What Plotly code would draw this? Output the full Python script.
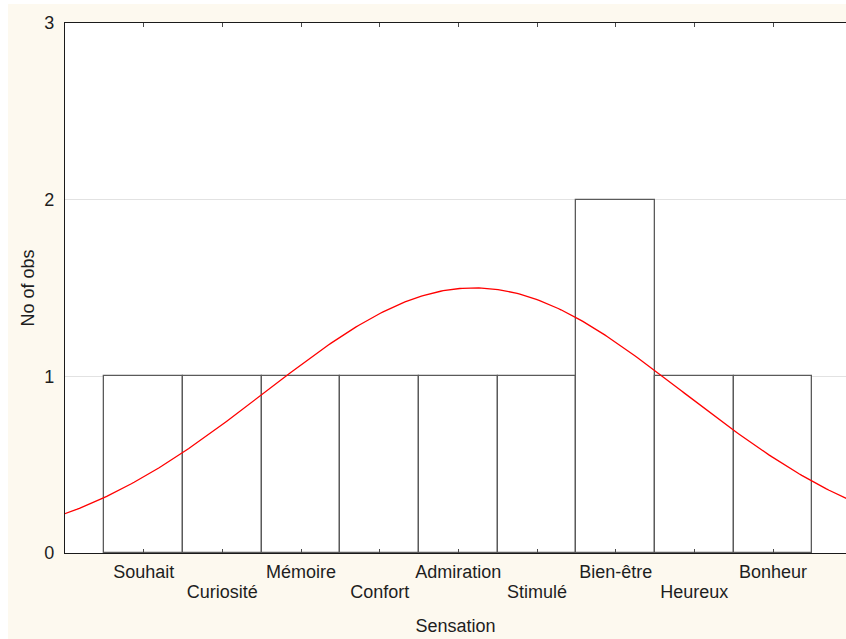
import numpy as np
import plotly.graph_objects as go

categories = ["Souhait", "Curiosité", "Mémoire", "Confort", "Admiration",
              "Stimulé", "Bien-être", "Heureux", "Bonheur"]
counts = [1, 1, 1, 1, 1, 1, 2, 1, 1]
y_ticks = [0, 1, 2, 3]

# figure sits at page offset (8, 4)
W, H = 838, 635
ML, MR, MT, MB = 57, 0, 19, 86
CREAM = "#fdf9ef"
TXT = "#1e1e1e"
FONT = dict(family="Liberation Sans, Arial, sans-serif", size=18, color=TXT)

pos = np.arange(len(categories))
cnt = np.array(counts, dtype=float)
n = cnt.sum()
mean = (pos * cnt).sum() / n
sd = np.sqrt(((pos - mean) ** 2 * cnt).sum() / (n - 1))
xc = np.linspace(-1.2, 9.2, 300)
yc = n * 1.0 / (sd * np.sqrt(2 * np.pi)) * np.exp(-0.5 * ((xc - mean) / sd) ** 2)

fig = go.Figure()
fig.add_trace(go.Bar(x=pos, y=counts, width=1.0,
                     marker=dict(color="white", line=dict(color="#5a5a5a", width=1.3)),
                     hoverinfo="skip", showlegend=False))
fig.add_trace(go.Scatter(x=xc, y=yc, mode="lines",
                         line=dict(color="#ff0000", width=1.3),
                         hoverinfo="skip", showlegend=False))
# invisible trace to hold the second (staggered label) axis
fig.add_trace(go.Scatter(x=[pos[0]], y=[0], xaxis="x2", mode="markers",
                         marker=dict(opacity=0), hoverinfo="skip", showlegend=False))

odd = [i for i in range(len(categories)) if i % 2 == 1]
plot_w = W - ML - MR
px_per_unit = 708 / 9.0
x_left = -1.0
x_right = x_left + plot_w / px_per_unit

fig.update_layout(
    width=W, height=H, autosize=False,
    margin=dict(l=ML, r=MR, t=MT, b=MB, pad=0),
    paper_bgcolor=CREAM, plot_bgcolor="white",
    font=FONT, bargap=0,
    xaxis=dict(range=[x_left, x_right], tickmode="array",
               tickvals=list(pos),
               ticktext=[categories[i] if i % 2 == 0 else "" for i in pos],
               tickfont=dict(size=18, color=TXT), ticklabelstandoff=2,
               ticks="inside", ticklen=4, tickcolor="#4a4a4a", tickwidth=1,
               showline=True, linecolor="#1a1a1a", linewidth=1.3, mirror="ticks",
               showgrid=False, zeroline=False,
               title=dict(text="Sensation", standoff=38, font=dict(size=18, color=TXT))),
    xaxis2=dict(overlaying="x", matches="x", side="bottom", anchor="y",
                tickmode="array", tickvals=[pos[i] for i in odd],
                ticktext=[categories[i] for i in odd],
                tickfont=dict(size=18, color=TXT),
                ticks="", showline=False, showgrid=False, zeroline=False,
                ticklabelstandoff=26),
    yaxis=dict(range=[0, 3], tickmode="array", tickvals=y_ticks,
               ticktext=[str(v) for v in y_ticks],
               tickfont=dict(size=18, color=TXT), ticklabelstandoff=6,
               ticks="", showline=True, linecolor="#1a1a1a", linewidth=1.3,
               showgrid=True, gridcolor="#e2e2e2", gridwidth=1, zeroline=False,
               title=dict(text="No of obs", standoff=4, font=dict(size=18, color=TXT))),
)

fig.write_html(
    "out.html",
    post_script="document.body.style.margin='4px 0 0 8px';"
                "document.body.style.overflow='hidden';",
)
